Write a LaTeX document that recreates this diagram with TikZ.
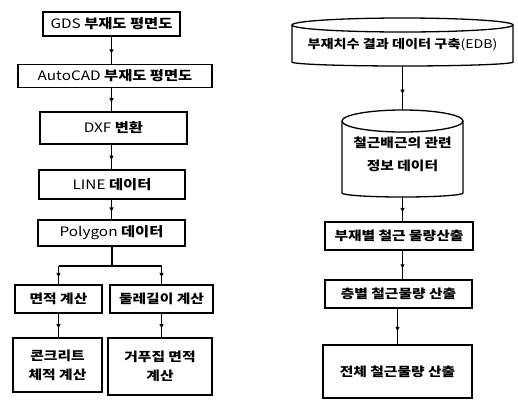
\documentclass[tikz,border=0pt]{standalone}
\usepackage{fontspec}
\setmainfont{Noto Sans CJK KR}[FakeStretch=1.18]
\newcommand\kb[1]{{\bfseries #1}}
\usetikzlibrary{decorations.markings,arrows.meta}
\begin{document}
\begin{tikzpicture}[x=1pt,y=-1pt, line width=1.3pt,
  box/.style={draw, rectangle, inner sep=0pt, align=center, font=\fontsize{12.5}{19}\selectfont\bfseries},
  latbox/.style={box, font=\fontsize{13}{19}\selectfont},
  txt/.style={inner sep=0pt, align=center, font=\fontsize{12.5}{23}\selectfont\bfseries},
  flow/.style={postaction={decorate}, decoration={markings, mark=at position 0.65 with {\arrow{Latex[length=5pt,width=4.5pt]}}}},
]
\useasboundingbox (0,0) rectangle (518,402);
\fill[white] (0,0) rectangle (518,402);

% left column
\node[latbox, minimum width=137pt, minimum height=24pt] (gds) at (111.5,24) {GDS \kb{부재도 평면도}};
\node[latbox, minimum width=194pt, minimum height=23pt] (acad) at (115,76) {AutoCAD \kb{부재도 평면도}};
\node[latbox, minimum width=147pt, minimum height=32pt] (dxf) at (113.5,128) {DXF \kb{변환}};
\node[latbox, minimum width=146pt, minimum height=29pt] (line) at (112,184.5) {LINE \kb{데이터}};
\node[latbox, minimum width=147pt, minimum height=26pt] (poly) at (111.5,233) {Polygon \kb{데이터}};
\node[box, minimum width=87pt, minimum height=28pt] (area) at (58.5,299) {면적 계산};
\node[box, minimum width=103pt, minimum height=28pt] (peri) at (161.5,299) {둘레길이 계산};
\node[box, minimum width=89pt, minimum height=54pt] (conc) at (57.5,365) {콘크리트\\체적 계산};
\node[box, minimum width=104pt, minimum height=57pt] (form) at (160,366.5) {거푸집 면적\\계산};

\draw[flow] (gds) -- (acad.north -| gds);
\draw[flow] (acad.south -| gds) -- (dxf.north -| gds);
\draw[flow] (dxf.south -| gds) -- (line.north -| gds);
\draw[flow] (line.south -| gds) -- (poly.north -| gds);
\coordinate (split) at (112,266);
\draw (poly.south -| split) -- (split);
\draw (area.center |- split) -- (peri.center |- split);
\draw[flow] (area.center |- split) -- (area.north);
\draw[flow] (peri.center |- split) -- (peri.north);
\draw[flow] (area) -- (conc.north -| area);
\draw[flow] (peri) -- (form.north -| peri);

% right column: cylinders
\draw (402.5,25) ellipse [x radius=110.5pt, y radius=7pt];
\draw (292,25) -- (292,62) arc[start angle=180, end angle=360, x radius=110.5pt, y radius=4pt] -- (513,25);
\node[txt, font=\fontsize{12}{23}\selectfont] (edb) at (402.5,45) {\kb{부재치수 결과 데이터 구축}(EDB)};
\coordinate (edbB) at (402.5,66);

\draw (402.5,121) ellipse [x radius=60.5pt, y radius=11pt];
\draw (342,121) -- (342,193) arc[start angle=180, end angle=360, x radius=60.5pt, y radius=4pt] -- (463,121);
\node[txt] (rebar) at (402.5,154) {철근배근의 관련\\정보 데이터};
\coordinate (cylT) at (402.5,110);
\coordinate (cylB) at (402.5,197);

\node[box, minimum width=148pt, minimum height=28pt] (r1) at (399,236) {부재별 철근 물량산출};
\node[box, minimum width=147pt, minimum height=28pt] (r2) at (398.5,294) {층별 철근물량 산출};
\node[box, minimum width=149pt, minimum height=53pt] (r3) at (397.5,371.5) {전체 철근물량 산출};

\draw[flow] (edbB) -- (cylT);
\draw[flow] (cylB) -- (cylB |- r1.north);
\draw[flow] (r1.south -| cylB) -- (r2.north -| cylB);
\draw[flow] (r2.south -| r3) -- (r3.north);
\end{tikzpicture}
\end{document}
